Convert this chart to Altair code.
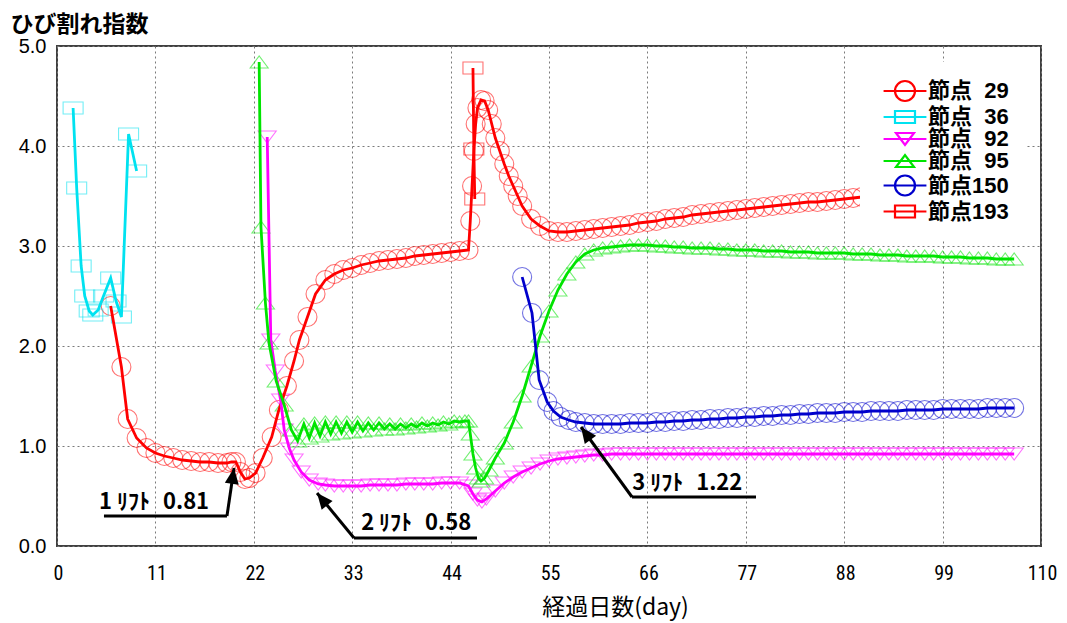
import altair as alt
import pandas as pd

# ---------------- data ----------------
SERIES = ["節点\u200729", "節点\u200736", "節点\u200792", "節点\u200795", "節点150", "節点193"]
COLORS = ["#ff0000", "#00e2f0", "#ff00ff", "#00e400", "#0000cc", "#ff0000"]

n29_day = [6, 7.2, 7.9, 8.9, 10, 11, 12, 13, 14, 15, 16, 17, 18, 19, 19.5, 20, 20.5, 21, 21.5,
           22.2, 23, 24, 24.8, 25.7, 26.5, 27.1, 28, 28.9, 30, 31, 32, 33, 34, 35, 36, 37, 38,
           39, 40, 41, 42, 43, 44, 45, 46, 46.2, 46.4, 46.6, 46.8, 47, 47.4, 47.8, 48.2, 48.6,
           49, 49.5, 50, 50.5, 51, 51.5, 52, 53, 54, 55, 56, 57, 58, 59,
           60, 61, 62, 63, 64, 65, 66, 67, 68, 69, 70, 71, 72, 73, 74, 75, 76, 77, 78, 79,
           80, 81, 82, 83, 84, 85, 86, 87, 88, 89, 90, 91, 92, 93, 94, 95, 96, 97, 98, 99,
           100, 101, 102, 103, 104, 105, 106, 107]
n29_val = [2.40, 1.79, 1.27, 1.08, 0.98, 0.93, 0.90, 0.88, 0.86, 0.85, 0.84, 0.84, 0.83, 0.83,
           0.84, 0.84, 0.74, 0.67, 0.68, 0.73, 0.88, 1.09, 1.36, 1.60, 1.85, 2.06, 2.29, 2.52,
           2.66, 2.72, 2.76, 2.78, 2.81, 2.83, 2.85, 2.86, 2.87, 2.88, 2.90, 2.91, 2.92, 2.93,
           2.94, 2.95, 2.96, 3.25, 3.60, 3.95, 4.22, 4.38, 4.46, 4.45, 4.36, 4.22, 4.08, 3.95,
           3.82, 3.70, 3.60, 3.50, 3.40, 3.27, 3.20, 3.15, 3.14, 3.14, 3.15, 3.16,
           3.17, 3.18, 3.19, 3.20, 3.21, 3.23, 3.24, 3.25, 3.27, 3.28, 3.29, 3.31, 3.32, 3.33,
           3.34, 3.35, 3.36, 3.37, 3.38, 3.39, 3.40, 3.41, 3.42, 3.43, 3.44, 3.44, 3.45, 3.46,
           3.47, 3.48, 3.49, 3.51, 3.52, 3.53, 3.53, 3.54, 3.55, 3.56, 3.56, 3.57, 3.58, 3.58,
           3.59, 3.60, 3.60, 3.61, 3.62, 3.62]

n36_day = [1.8, 2.2, 2.7, 3.1, 3.6, 4.0, 4.6, 5.2, 6.0, 6.6, 7.2, 8.0, 8.9]
n36_val = [4.38, 3.58, 2.80, 2.50, 2.35, 2.31, 2.36, 2.50, 2.68, 2.45, 2.29, 4.12, 3.75]

n92_day = [23.5, 23.9, 24.4, 25.0, 25.4, 26.0, 26.5, 27.3, 28.2, 29.2, 30, 31, 32, 33, 34, 35,
           36, 37, 38, 39, 40, 41, 42, 43, 44, 45, 46, 46.5, 47, 47.5, 48, 49, 50, 51, 52, 53,
           54, 55, 56, 57, 58, 59, 60, 61, 62, 63, 64, 65, 66, 67, 68, 69, 70, 71, 72, 73, 74,
           75, 76, 77, 78, 79, 80, 81, 82, 83, 84, 85, 86, 87, 88, 89, 90, 91, 92, 93, 94, 95,
           96, 97, 98, 99, 100, 101, 102, 103, 104, 105, 106, 107]
n92_val = [4.09, 2.06, 1.75, 1.46, 1.16, 0.97, 0.86, 0.74, 0.66, 0.62, 0.61, 0.60, 0.60, 0.60,
           0.60, 0.61, 0.61, 0.61, 0.61, 0.62, 0.62, 0.62, 0.62, 0.63, 0.63, 0.63, 0.60, 0.52,
           0.46, 0.44, 0.47, 0.55, 0.63, 0.69, 0.74, 0.78, 0.82, 0.85, 0.87, 0.88, 0.89, 0.90,
           0.91, 0.91, 0.92, 0.92, 0.92, 0.92, 0.92, 0.92, 0.92, 0.92, 0.92, 0.92, 0.92, 0.92,
           0.92, 0.92, 0.92, 0.92, 0.92, 0.92, 0.92, 0.92, 0.92, 0.92, 0.92, 0.92, 0.92, 0.92,
           0.92, 0.92, 0.92, 0.92, 0.92, 0.92, 0.92, 0.92, 0.92, 0.92, 0.92, 0.92, 0.92, 0.92,
           0.92, 0.92, 0.92, 0.92, 0.92, 0.92]

n95_day = [22.6, 22.8, 23.3, 23.7, 24.5, 25.4, 26.2, 26.9, 27.6, 28.2, 28.8, 29.4, 30.0, 30.6,
           31.2, 31.8, 32.4, 33.0, 33.6, 34.2, 34.8, 35.4, 36.0, 36.6, 37.2, 37.8, 38.4, 39.0,
           39.6, 40.2, 40.8, 41.4, 42.0, 42.6, 43.2, 43.8, 44.4, 45.0, 45.6, 46.0, 46.2, 46.5,
           46.8, 47.1, 47.4, 47.8, 48.3, 49, 50, 51, 52, 53, 54, 55, 56, 57, 58, 59, 60, 61,
           62, 63, 64, 65, 66, 67, 68, 69, 70, 71, 72, 73, 74, 75, 76, 77, 78, 79, 80, 81, 82,
           83, 84, 85, 86, 87, 88, 89, 90, 91, 92, 93, 94, 95, 96, 97, 98, 99, 100, 101, 102,
           103, 104, 105, 106, 107]
n95_val = [4.84, 3.19, 2.43, 2.03, 1.65, 1.41, 1.16, 1.05, 1.22, 1.08, 1.23, 1.10, 1.24, 1.12,
           1.24, 1.13, 1.24, 1.14, 1.24, 1.15, 1.23, 1.16, 1.23, 1.17, 1.22, 1.17, 1.22, 1.18,
           1.22, 1.19, 1.23, 1.20, 1.23, 1.21, 1.24, 1.22, 1.25, 1.24, 1.25, 1.25, 1.12, 0.92,
           0.78, 0.68, 0.65, 0.68, 0.76, 0.88, 1.03, 1.24, 1.50, 1.80, 2.10, 2.35, 2.56, 2.72,
           2.84, 2.92, 2.96, 2.98, 2.99, 3.00, 3.01, 3.01, 3.01, 3.00, 3.00, 2.99, 2.99, 2.98,
           2.98, 2.98, 2.97, 2.97, 2.96, 2.96, 2.96, 2.95, 2.95, 2.95, 2.94, 2.94, 2.94, 2.93,
           2.93, 2.93, 2.93, 2.92, 2.92, 2.92, 2.91, 2.91, 2.91, 2.90, 2.90, 2.90, 2.90, 2.89,
           2.89, 2.89, 2.88, 2.88, 2.88, 2.87, 2.87, 2.87]

n150_day = [52, 53.1, 53.9, 54.8, 55.5, 56.3, 57.2, 58, 59, 60, 61, 62, 63, 64, 65, 66, 67, 68,
            69, 70, 71, 72, 73, 74, 75, 76, 77, 78, 79, 80, 81, 82, 83, 84, 85, 86, 87, 88, 89,
            90, 91, 92, 93, 94, 95, 96, 97, 98, 99, 100, 101, 102, 103, 104, 105, 106, 107]
n150_val = [2.69, 2.33, 1.66, 1.44, 1.35, 1.29, 1.26, 1.24, 1.23, 1.22, 1.22, 1.22, 1.22, 1.23,
            1.23, 1.23, 1.24, 1.24, 1.25, 1.25, 1.26, 1.26, 1.27, 1.27, 1.28, 1.28, 1.29, 1.29,
            1.30, 1.30, 1.31, 1.31, 1.32, 1.32, 1.33, 1.33, 1.33, 1.34, 1.34, 1.34, 1.35, 1.35,
            1.35, 1.35, 1.36, 1.36, 1.36, 1.36, 1.37, 1.37, 1.37, 1.37, 1.37, 1.38, 1.38, 1.38,
            1.38]

n193_day = [46.5, 46.6, 46.7]
n193_val = [4.78, 3.97, 3.47]

X_TICKS = [0, 11, 22, 33, 44, 55, 66, 77, 88, 99, 110]
Y_TICKS = [0, 1, 2, 3, 4, 5]

# annotations (label text, text anchor, underline, arrow tip)
ANN_TEXT = ["1 ﾘﾌﾄ\u20070.81", "2 ﾘﾌﾄ\u20070.58", "3 ﾘﾌﾄ\u20071.22"]
ANN_TX = [4.7, 34.0, 64.3]
ANN_TY = [0.44, 0.23, 0.63]
UL_X0 = [5.25, 33.2, 64.28]
UL_X1 = [19.0, 46.95, 78.14]
UL_Y = [0.30, 0.08, 0.49]
TIP_X = [19.79, 29.07, 58.58]
TIP_Y = [0.78, 0.53, 1.19]
TIP_ANGLE = [8, 321, 324]

# ---------------- build tables ----------------
all_series = [(n29_day, n29_val), (n36_day, n36_val), (n92_day, n92_val),
              (n95_day, n95_val), (n150_day, n150_val), (n193_day, n193_val)]
frames = []
for name, (d, v) in zip(SERIES, all_series):
    assert len(d) == len(v), name
    frames.append(pd.DataFrame({"series": name, "day": d, "value": v}))
df = pd.concat(frames, ignore_index=True)

RECT = "M-1,-0.6H1V0.6H-1Z"
TRI_UP = "M-0.9,0.6L0.9,0.6L0,-0.6Z"
TRI_DOWN = "M-0.9,-0.6L0.9,-0.6L0,0.6Z"
MARKERS = ["circle", RECT, TRI_DOWN, TRI_UP, "circle", RECT]
MSIZE = [361, 400, 400, 400, 361, 400]

LEG_CIRCLE = "M-3,0H3M1.4,0A1.4,1.4,0,1,1,-1.4,0A1.4,1.4,0,1,1,1.4,0"
LEG_RECT = "M-3,0H3M-1.4,-0.84H1.4V0.84H-1.4Z"
LEG_TDOWN = "M-3,0H3M-1.26,-0.84L1.26,-0.84L0,0.84Z"
LEG_TUP = "M-3,0H3M-1.26,0.84L1.26,0.84L0,-0.84Z"
LEG_PATHS = [LEG_CIRCLE, LEG_RECT, LEG_TDOWN, LEG_TUP, LEG_CIRCLE, LEG_RECT]

JP = "Noto Sans CJK JP"
NARROW = "Liberation Sans Narrow, Roboto Condensed, Liberation Sans, Noto Sans CJK JP"

x_enc = alt.X("day:Q", scale=alt.Scale(domain=[0, 110], nice=False, zero=False),
              axis=alt.Axis(values=X_TICKS, title="経過日数(day)", grid=True,
                            labelFont=NARROW, labelFontSize=20, labelColor="black",
                            labelPadding=17, labelOffset=1, labelFlush=False,
                            labelOverlap=False,
                            titleFont=JP, titleFontSize=23, titleFontWeight="normal",
                            titleColor="black", titleX=558, titleY=61,
                            titleAlign="center", titleBaseline="middle"))
y_enc = alt.Y("value:Q", scale=alt.Scale(domain=[0, 5], nice=False),
              axis=alt.Axis(values=Y_TICKS, format=".1f", title="ひび割れ指数", grid=True,
                            labelFont="Liberation Sans", labelFontSize=20, labelColor="black",
                            labelPadding=11,
                            titleFont=JP, titleFontSize=23, titleFontWeight="bold",
                            titleColor="black", titleAngle=0, titleAlign="left",
                            titleBaseline="top", titleX=-47, titleY=-33))

base = alt.Chart(df)
layers = []
for i, name in enumerate(SERIES):
    layers.append(
        base.transform_filter(alt.datum.series == name)
        .mark_point(shape=MARKERS[i], size=MSIZE[i], filled=False, strokeWidth=1.1,
                    opacity=0.55, color=COLORS[i])
        .encode(x=x_enc, y=y_enc)
    )
for i, name in enumerate(SERIES):
    layers.append(
        base.transform_filter(alt.datum.series == name)
        .mark_line(strokeWidth=2.8, color=COLORS[i])
        .encode(x=x_enc, y=y_enc)
    )

# legend (symbols drawn only in the legend; the layer's own marks sit off-canvas)
leg_kwargs = dict(title=None, orient="none", legendX=803, legendY=16, fillColor="white",
                  padding=18, labelFont="Liberation Sans, Noto Sans CJK JP", labelFontSize=22,
                  labelFontWeight="bold", labelColor="black", symbolOffset=16, labelOffset=12,
                  rowPadding=-1.5, symbolSize=204, symbolStrokeWidth=2.2, labelLimit=300,
                  labelBaseline="middle")
legend_layer = alt.Chart(pd.DataFrame({"series": SERIES})).mark_point(
    filled=False, size=204, strokeWidth=2.2, opacity=1
).encode(
    x=alt.value(-400), y=alt.value(-400),
    color=alt.Color("series:N", scale=alt.Scale(domain=SERIES, range=COLORS),
                    legend=alt.Legend(**leg_kwargs)),
    shape=alt.Shape("series:N", scale=alt.Scale(domain=SERIES, range=LEG_PATHS),
                    legend=alt.Legend(**leg_kwargs)),
)

# annotations (drawn on the same shared x/y scales)
ann_df = pd.DataFrame({"label": ANN_TEXT, "day": ANN_TX, "value": ANN_TY})
seg_df = pd.DataFrame({
    "day": UL_X0 + UL_X0,
    "day2": UL_X1 + TIP_X,
    "value": UL_Y + UL_Y,
    "value2": UL_Y + TIP_Y,
})
# connector of arrow 1 starts at the underline's right end
seg_df.loc[3, "day"] = UL_X1[0]
tip_df = pd.DataFrame({"day": TIP_X, "value": TIP_Y, "angle": TIP_ANGLE})

ann_text = alt.Chart(ann_df).mark_text(
    align="left", baseline="middle", font="Liberation Sans Narrow, Noto Sans CJK JP",
    fontSize=22, fontWeight="bold", color="black"
).encode(x=x_enc, y=y_enc, text="label:N")
ann_lines = alt.Chart(seg_df).mark_rule(color="black", strokeWidth=3).encode(
    x=x_enc, x2="day2:Q", y=y_enc, y2="value2:Q")
ARROW = "M0,0L0.7,1.6L-0.7,1.6Z"
ann_tips = alt.Chart(tip_df).mark_point(
    shape=ARROW, size=400, filled=True, color="black", opacity=1, strokeWidth=0
).encode(x=x_enc, y=y_enc, angle=alt.Angle("angle:Q", scale=None))

chart = alt.layer(*layers, ann_lines, ann_tips, ann_text, legend_layer).properties(
    width=984, height=500,
    padding={"left": 49, "top": 38, "right": 18, "bottom": 76},
    autosize=alt.AutoSizeParams(type="none"),
    background="white",
).configure_view(
    stroke="#404040", strokeWidth=2
).configure_axis(
    domain=False, ticks=False, gridColor="#7a7a7a", gridDash=[2, 3], gridWidth=1
)

chart.save("out.html", embed_options={"renderer": "svg", "actions": False})
